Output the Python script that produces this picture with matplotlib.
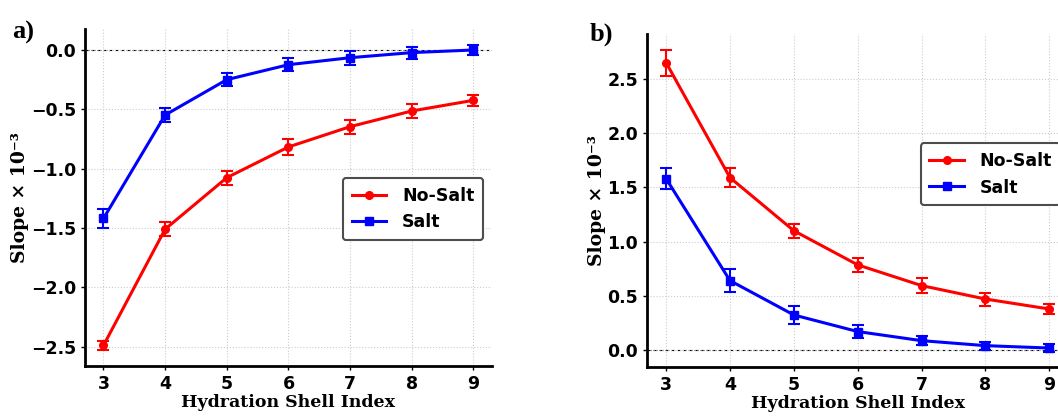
import numpy as np
import matplotlib.pyplot as plt
from matplotlib.lines import Line2D

# Hydration shell index
shells = np.array([3, 4, 5, 6, 7, 8, 9])

# Panel a)
a_nosalt = np.array([-2.49, -1.51, -1.076, -0.817, -0.646, -0.514, -0.424])
a_nosalt_err = np.array([0.04, 0.06, 0.06, 0.066, 0.06, 0.056, 0.046])
a_salt = np.array([-1.42, -0.548, -0.25, -0.124, -0.065, -0.022, 0.0])
a_salt_err = np.array([0.082, 0.059, 0.056, 0.057, 0.06, 0.05, 0.04])

# Panel b)
b_nosalt = np.array([2.65, 1.59, 1.10, 0.785, 0.594, 0.47, 0.378])
b_nosalt_err = np.array([0.118, 0.09, 0.066, 0.066, 0.072, 0.06, 0.05])
b_salt = np.array([1.58, 0.64, 0.323, 0.17, 0.086, 0.04, 0.018])
b_salt_err = np.array([0.095, 0.108, 0.08, 0.063, 0.043, 0.038, 0.034])

fig = plt.figure(figsize=(10.58, 4.17), dpi=100)
ax1 = fig.add_axes([0.0803, 0.1223, 0.3847, 0.8082])
ax2 = fig.add_axes([0.6115, 0.1199, 0.3984, 0.7986])


def draw(ax, ns, ns_err, s, s_err, ylim, leg_anchor):
    ax.axhline(0, color="black", linestyle="--", linewidth=0.8, zorder=1)
    ax.errorbar(shells, ns, yerr=ns_err, fmt="o-", color="red",
                linewidth=2.2, markersize=5.5, capsize=4, elinewidth=1.5, capthick=1.5)
    ax.errorbar(shells, s, yerr=s_err, fmt="s-", color="blue",
                linewidth=2.2, markersize=6, capsize=4, elinewidth=1.5, capthick=1.5)
    ax.set_xlim(2.7, 9.3)
    ax.set_ylim(*ylim)
    ax.set_xticks(shells)
    ax.grid(True, linestyle=":", color="0.8", linewidth=0.8)
    for side in ["top", "right"]:
        ax.spines[side].set_visible(False)
    for side in ["left", "bottom"]:
        ax.spines[side].set_linewidth(2)
    ax.tick_params(direction="out", length=3, width=1, labelsize=12.5)
    for lbl in ax.get_xticklabels() + ax.get_yticklabels():
        lbl.set_fontweight("bold")
    ax.set_xlabel("Hydration Shell Index", family="DejaVu Serif", fontweight="bold",
                  fontsize=12.5, labelpad=1)
    ax.set_ylabel("Slope × 10⁻³", family="DejaVu Serif", fontweight="bold",
                  fontsize=13.5, labelpad=1)
    handles = [Line2D([], [], color="red", marker="o", linewidth=2.2, markersize=5.5),
               Line2D([], [], color="blue", marker="s", linewidth=2.2, markersize=6)]
    leg = ax.legend(handles, ["No-Salt", "Salt"], loc="upper right",
                    bbox_to_anchor=leg_anchor, borderaxespad=0,
                    prop={"weight": "bold", "size": 12.5}, fancybox=True,
                    handlelength=2.0, borderpad=0.5, handletextpad=0.9)
    leg.get_frame().set_edgecolor("0.3")
    leg.get_frame().set_linewidth(1.5)
    leg.get_frame().set_alpha(1)


draw(ax1, a_nosalt, a_nosalt_err, a_salt, a_salt_err, (-2.663, 0.177), (0.978, 0.558))
draw(ax2, b_nosalt, b_nosalt_err, b_salt, b_salt_err, (-0.157, 2.915), (0.982, 0.672))

fig.text(0.011, 0.95, "a)", family="Liberation Serif", fontweight="bold", fontsize=19, va="top")
fig.text(0.557, 0.945, "b)", family="Liberation Serif", fontweight="bold", fontsize=19, va="top")

fig.savefig("out.png", dpi=100)
